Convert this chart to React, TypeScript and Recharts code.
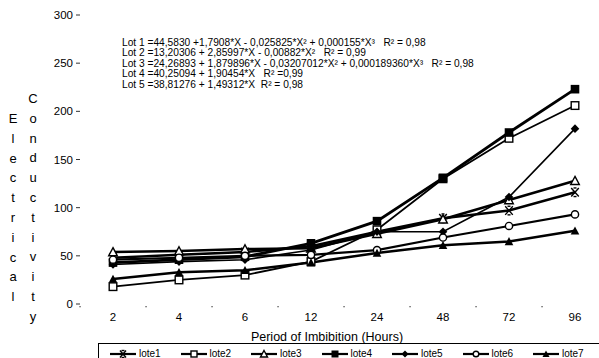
import { LineChart, Line, XAxis, YAxis } from "recharts";

// imbibition period (hours) and conductivity readings per lot
const hours = ["2", "4", "6", "12", "24", "48", "72", "96"];
const lote1 = [48, 51, 54, 60, 75, 89, 97, 116];
const lote2 = [18, 25, 30, 44, 77, 130, 172, 206];
const lote3 = [54, 55, 57, 58, 73, 88, 108, 128];
const lote4 = [43, 46, 49, 63, 86, 131, 178, 223];
const lote5 = [41, 44, 46, 56, 75, 75, 111, 182];
const lote6 = [46, 48, 50, 51, 56, 69, 81, 93];
const lote7 = [26, 33, 35, 43, 53, 61, 65, 76];
const yTicks = [0, 50, 100, 150, 200, 250, 300];

const equations = [
  "Lot 1 =44,5830 +1,7908*X - 0,025825*X² + 0,000155*X³   R² = 0,98",
  "Lot 2 =13,20306 + 2,85997*X - 0,00882*X²   R² = 0,99",
  "Lot 3 =24,26893 + 1,879896*X - 0,03207012*X² + 0,000189360*X³   R² = 0,98",
  "Lot 4 =40,25094 + 1,90454*X   R² =0,99",
  "Lot 5 =38,81276 + 1,49312*X  R² = 0,98",
];
const eqTops = [38.7, 49.2, 59.7, 70.2, 80.7];

const series = [
  { key: "lote1", values: lote1, shape: "x", width: 2.5 },
  { key: "lote2", values: lote2, shape: "openSquare", width: 1.8 },
  { key: "lote3", values: lote3, shape: "openTriangle", width: 2.5 },
  { key: "lote4", values: lote4, shape: "square", width: 2.8 },
  { key: "lote5", values: lote5, shape: "diamond", width: 1.6 },
  { key: "lote6", values: lote6, shape: "openCircle", width: 2.2 },
  { key: "lote7", values: lote7, shape: "triangle", width: 2.5 },
];

const data = hours.map((h, i) => {
  const row: Record<string, string | number> = { hour: h };
  series.forEach((s) => (row[s.key] = s.values[i]));
  return row;
});

const FONT = "'Liberation Sans', Arial, sans-serif";
const HALF_STEP = 33;

function Marker({ shape, cx, cy, r = 4.3 }: { shape: string; cx: number; cy: number; r?: number }) {
  switch (shape) {
    case "x":
      return (
        <g stroke="#000" strokeWidth={1.4} fill="none">
          <line x1={cx - r + 0.5} y1={cy - r} x2={cx + r - 0.5} y2={cy + r} />
          <line x1={cx + r - 0.5} y1={cy - r} x2={cx - r + 0.5} y2={cy + r} />
          <line x1={cx - 1.5} y1={cy - r} x2={cx + 1.5} y2={cy - r} />
          <line x1={cx - 1.5} y1={cy + r} x2={cx + 1.5} y2={cy + r} />
        </g>
      );
    case "openSquare":
      return <rect x={cx - r + 0.5} y={cy - r + 0.5} width={2 * r - 1} height={2 * r - 1} fill="#fff" stroke="#000" strokeWidth={1.4} />;
    case "square":
      return <rect x={cx - r} y={cy - r} width={2 * r} height={2 * r} fill="#000" />;
    case "openTriangle":
      return <polygon points={`${cx},${cy - r} ${cx + r},${cy + r - 0.5} ${cx - r},${cy + r - 0.5}`} fill="#fff" stroke="#000" strokeWidth={1.4} />;
    case "triangle":
      return <polygon points={`${cx},${cy - r} ${cx + r},${cy + r - 0.5} ${cx - r},${cy + r - 0.5}`} fill="#000" />;
    case "diamond":
      return <polygon points={`${cx},${cy - r} ${cx + r},${cy} ${cx},${cy + r} ${cx - r},${cy}`} fill="#000" />;
    case "openCircle":
      return <circle cx={cx} cy={cy} r={r - 0.7} fill="#fff" stroke="#000" strokeWidth={1.4} />;
    default:
      return null;
  }
}

function XTick(props: any) {
  const { x, y, payload } = props;
  return (
    <g>
      <rect x={x - HALF_STEP - 0.6} y={306} width={1.3} height={1.3} fill="#555" />
      <text x={x} y={y} dy="0.71em" textAnchor="middle" fontSize={11.5} fill="#000" fontFamily={FONT}>
        {payload.value}
      </text>
    </g>
  );
}

const yTitleA = "Electrical".split("");
const yTitleB = "Conductivity".split("");

function YTitle() {
  return (
    <g fontFamily={FONT} fontSize={13} fill="#000" textAnchor="middle">
      {yTitleA.map((c, i) => (
        <text key={"a" + i} x={13} y={123 + i * 19.8}>{c}</text>
      ))}
      {yTitleB.map((c, i) => (
        <text key={"b" + i} x={33} y={103 + i * 19.8}>{c}</text>
      ))}
    </g>
  );
}

export default function App() {
  return (
    <div
      style={{
        position: "fixed",
        left: 0,
        top: 0,
        width: 599,
        height: 358,
        overflow: "hidden",
        background: "#fff",
        fontFamily: FONT,
      }}
    >
      <LineChart width={620} height={358} data={data} margin={{ top: 15, right: 12, bottom: 14, left: 0 }}>
        <XAxis
          dataKey="hour"
          axisLine={false}
          tickLine={false}
          tickSize={3}
          tickMargin={6}
          height={40}
          padding={{ left: HALF_STEP, right: HALF_STEP }}
          tick={<XTick />}
          label={{
            value: "Period of Imbibition (Hours)",
            position: "insideBottom",
            offset: 3,
            dx: -17,
            fontSize: 12.5,
            fill: "#000",
            fontFamily: FONT,
          }}
        />
        <YAxis
          width={80}
          domain={[0, 300]}
          ticks={yTicks}
          axisLine={false}
          tickLine={{ stroke: "#333" }}
          tickSize={4}
          tickMargin={3}
          tick={{ fontSize: 11.5, fill: "#000", fontFamily: FONT }}
          label={{ content: () => <YTitle /> }}
        />
        {series.map((s) => (
          <Line
            key={s.key}
            dataKey={s.key}
            type="linear"
            stroke="#000"
            strokeWidth={s.width}
            isAnimationActive={false}
            dot={(p: any) => <Marker key={s.key + p.index} shape={s.shape} cx={p.cx} cy={p.cy} />}
            activeDot={false}
          />
        ))}
      </LineChart>

      {equations.map((t, i) => (
        <div
          key={i}
          style={{
            position: "absolute",
            left: 122,
            top: eqTops[i],
            fontSize: 10.2,
            lineHeight: "8.5px",
            whiteSpace: "pre",
            color: "#000",
          }}
        >
          {t}
        </div>
      ))}

      <div
        style={{
          position: "absolute",
          left: 98,
          top: 343,
          width: 520,
          height: 30,
          borderTop: "1.5px solid #000",
          borderLeft: "1.5px solid #000",
        }}
      >
        {series.map((s, i) => (
          <div
            key={s.key}
            style={{
              position: "absolute",
              left: 11 + i * 70.5,
              top: 5,
              display: "flex",
              alignItems: "center",
              fontSize: 10,
              lineHeight: "10px",
            }}
          >
            <svg width={26} height={10}>
              <line x1={0} y1={5} x2={26} y2={5} stroke="#000" strokeWidth={2.2} />
              <Marker shape={s.shape} cx={13} cy={5} r={3.5} />
            </svg>
            <span style={{ marginLeft: 3 }}>{s.key}</span>
          </div>
        ))}
      </div>
    </div>
  );
}
